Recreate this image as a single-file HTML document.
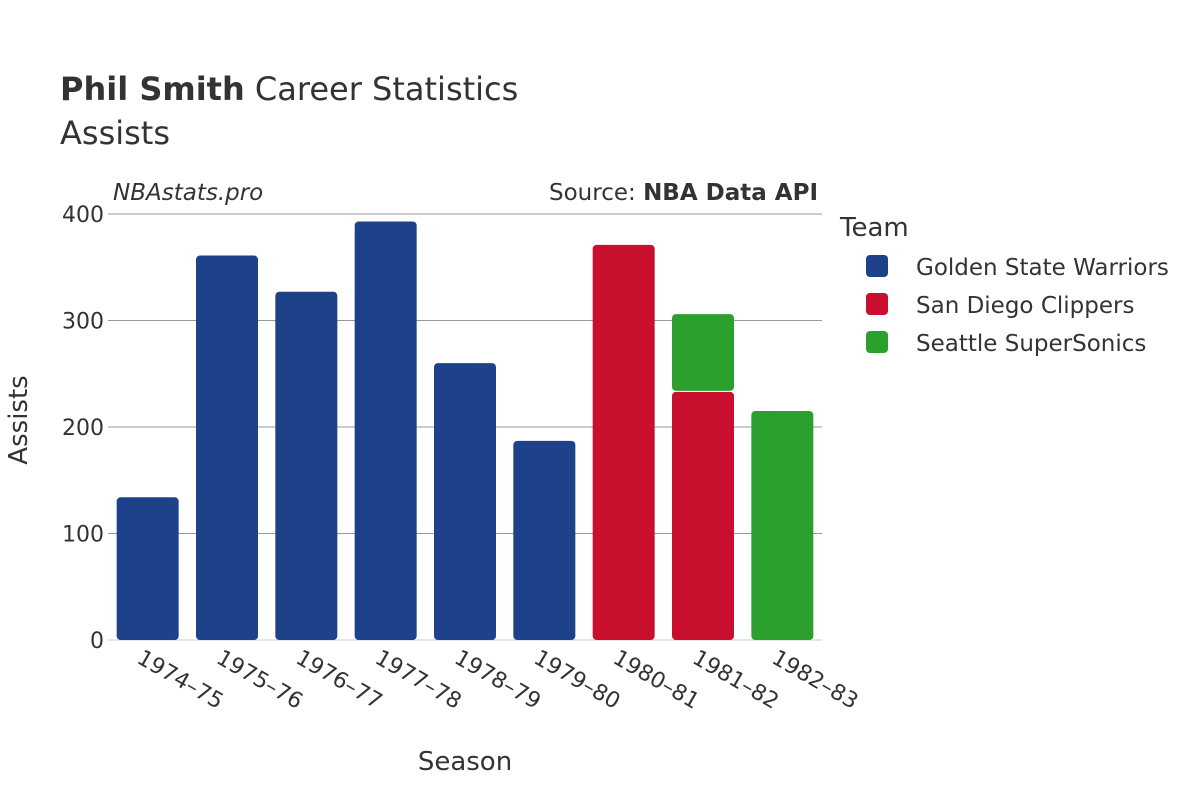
<!DOCTYPE html>
<html><head><meta charset="utf-8"><style>
body{margin:0;background:#fff}
svg text{font-family:"DejaVu Sans","Liberation Sans",sans-serif;fill:#333}
</style></head><body>
<svg id="chart" width="1200" height="800">
<text x="60" y="100" font-size="32"><tspan font-weight="bold">Phil Smith</tspan> Career Statistics</text>
<text x="60" y="144" font-size="32">Assists</text>
<text x="113" y="200" font-size="23" font-style="italic">NBAstats.pro</text>
<text x="818" y="200" font-size="23" text-anchor="end">Source: <tspan font-weight="bold">NBA Data API</tspan></text>
<g id="grid"></g>
<g id="bars"></g>
<g id="xt"></g>
<g id="yt"></g>
<text x="465" y="770" font-size="26" text-anchor="middle">Season</text>
<text transform="translate(27,420) rotate(-90)" font-size="26" text-anchor="middle">Assists</text>
<text x="840" y="236" font-size="26">Team</text>
<g id="legend"></g>
</svg>
<script>
const seasons=["1974–75","1975–76","1976–77","1977–78","1978–79","1979–80","1980–81","1981–82","1982–83"];
const gsw=[134,361,327,393,260,187,0,0,0];
const sdc=[0,0,0,0,0,0,371,233,0];
const sea=[0,0,0,0,0,0,0,73,215];
const teams=["Golden State Warriors","San Diego Clippers","Seattle SuperSonics"];
const colors=["#1d428a","#c8102e","#2ca02c"];
const yTicks=[0,100,200,300,400];
const NS="http://www.w3.org/2000/svg";
const x0=108,x1=822,yb=640,yt=214,ymax=400;
const band=(x1-x0)/seasons.length;
const y=v=>yb-(v/ymax)*(yb-yt);
const xc=i=>x0+band*(i+0.5);
function mk(tag,attrs,parent){const e=document.createElementNS(NS,tag);for(const k in attrs)e.setAttribute(k,attrs[k]);parent.appendChild(e);return e;}
const grid=document.getElementById('grid'),yg=document.getElementById('yt');
yTicks.forEach(t=>{
 const l=mk('line',{x1:x0,x2:x1,y1:y(t),y2:y(t),stroke:t===0?'#e6e6e6':'#999','stroke-width':t===0?2:1},grid);
 
 
 const tx=mk('text',{x:x0-4,y:y(t)+8,'font-size':22,'text-anchor':'end'},yg);
 tx.textContent=t;
 
 
});
const bars=document.getElementById('bars'),xg=document.getElementById('xt');
const series=[gsw,sdc,sea];
const bw=62;
seasons.forEach((s,i)=>{
 let base=0;
 series.forEach((ser,k)=>{
  const v=ser[i]; if(!v)return;
  const top=base+v;
  const r=mk('rect',{x:xc(i)-bw/2,y:y(top),width:bw,height:y(base)-y(top)-(base>0?1:0),fill:colors[k],rx:4},bars);
  
  
  base=top;
 });
 const tx=mk('text',{transform:`translate(${xc(i)-12},${yb+22}) rotate(30)`,'font-size':22},xg);
 tx.textContent=s;
 
 
});
const lg=document.getElementById('legend');
teams.forEach((t,k)=>{
 const yy=266+k*38;
 const r=mk('rect',{x:866,y:yy-11,width:22,height:22,rx:4,fill:colors[k]},lg);
 
 
 const tx=mk('text',{x:916,y:yy+9,'font-size':23},lg);
 tx.textContent=t;
 
 
});
</script>
</body></html>
